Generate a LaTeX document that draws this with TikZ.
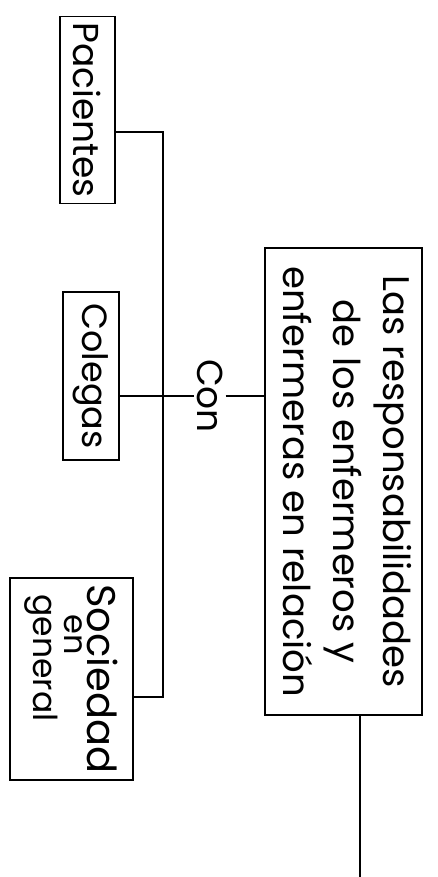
\documentclass[tikz,border=0pt]{standalone}
\usepackage{fontspec}
\setmainfont{Poppins}
\usetikzlibrary{calc}

\newcommand{\vtext}[1]{\rotatebox{-90}{#1}}

\begin{document}
\begin{tikzpicture}[x=1pt, y=-1pt, line width=1.5pt,
  box/.style={draw, inner sep=0pt, align=center},
  label/.style={inner sep=2pt}]

  \useasboundingbox (0,0) rectangle (438,877);

  % main box
  \node[box, minimum width=157pt, minimum height=467pt] (resp) at (343.5,481.5)
    {\vtext{\fontsize{37}{50}\selectfont\begin{tabular}{@{}c@{}}Las responsabilidades\\de los enfermeros y\\enfermeras en relación\end{tabular}}};

  % left column
  \node[box, minimum width=55pt, minimum height=187pt] (pac) at (87.5,110)
    {\vtext{\fontsize{36}{40}\selectfont Pacientes}};
  \node[box, minimum width=56pt, minimum height=168pt] (col) at (91,376)
    {\vtext{\fontsize{35}{40}\selectfont Colegas}};
  \node[box, minimum width=123pt, minimum height=202pt] (soc) at (71.5,679)
    {\vtext{\begin{tabular}{@{}l@{}}\fontsize{40}{40}\selectfont Sociedad\\[2pt]
      \hspace*{30pt}\fontsize{32}{30}\selectfont en\\[2pt]
      \hspace*{10pt}\fontsize{33}{34}\selectfont general\end{tabular}}};

  \node[label] (con) at (210,396) {\vtext{\fontsize{36}{40}\selectfont Con}};

  \coordinate (top) at (163,132);
  \coordinate (bot) at (163,697);
  \coordinate (end) at (360,877);

  \draw (pac.east |- top) -- (top) -- (bot) -- (soc.east |- bot);
  \draw (col.east |- con.west) -- (con.west);
  \draw (con.east) -- (resp.west |- con.east);
  \draw (resp.south -| end) -- (end);

\end{tikzpicture}
\end{document}
